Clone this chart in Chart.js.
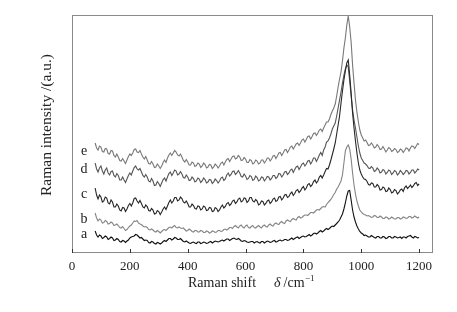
<!DOCTYPE html>
<html>
<head>
<meta charset="utf-8">
<script src="https://cdn.jsdelivr.net/npm/chart.js@4.4.1/dist/chart.umd.min.js"></script>
<style>
  html, body { margin: 0; padding: 0; background: #fff; }
  #wrap { width: 457px; height: 312px; }
</style>
</head>
<body>
<div id="wrap"><canvas id="raman" width="457" height="312"></canvas></div>
<script>
// Raman shift grid (cm-1)
const shift = [
  80, 85, 90, 95, 100, 105, 110, 115, 120, 125, 130, 135, 140, 145, 150, 155, 160, 165, 170, 175,
  180, 185, 190, 195, 200, 205, 210, 215, 220, 225, 230, 235, 240, 245, 250, 255, 260, 265, 270, 275,
  280, 285, 290, 295, 300, 305, 310, 315, 320, 325, 330, 335, 340, 345, 350, 355, 360, 365, 370, 375,
  380, 385, 390, 395, 400, 405, 410, 415, 420, 425, 430, 435, 440, 445, 450, 455, 460, 465, 470, 475,
  480, 485, 490, 495, 500, 505, 510, 515, 520, 525, 530, 535, 540, 545, 550, 555, 560, 565, 570, 575,
  580, 585, 590, 595, 600, 605, 610, 615, 620, 625, 630, 635, 640, 645, 650, 655, 660, 665, 670, 675,
  680, 685, 690, 695, 700, 705, 710, 715, 720, 725, 730, 735, 740, 745, 750, 755, 760, 765, 770, 775,
  780, 785, 790, 795, 800, 805, 810, 815, 820, 825, 830, 835, 840, 845, 850, 855, 860, 865, 870, 875,
  880, 885, 890, 895, 900, 905, 910, 915, 920, 925, 930, 935, 940, 945, 950, 955, 960, 965, 970, 975,
  980, 985, 990, 995, 1000, 1005, 1010, 1015, 1020, 1025, 1030, 1035, 1040, 1045, 1050, 1055, 1060, 1065, 1070, 1075,
  1080, 1085, 1090, 1095, 1100, 1105, 1110, 1115, 1120, 1125, 1130, 1135, 1140, 1145, 1150, 1155, 1160, 1165, 1170, 1175,
  1180, 1185, 1190, 1195, 1200
];

// intensities (a.u.), stacked spectra a..e
const specA = [
  22, 18, 16, 18, 17, 14.5, 15.5, 17, 16, 13.5, 14.5, 16, 15, 12.5, 13, 14.5, 13.5, 11.5, 11, 12.5,
  12, 10.5, 12, 13, 15, 16, 16.5, 17, 18.5, 18, 16.5, 15, 15.5, 14, 12.5, 13, 12.5, 10.5, 10, 11.5,
  11, 9.5, 9, 10.5, 10, 9, 10, 11.5, 12.5, 11.5, 13, 14.5, 14.5, 13, 14, 15.5, 15, 13.5, 13.5, 14.5,
  13, 11.5, 11, 12, 11, 10, 9.5, 10.5, 11, 10, 9.5, 11, 11, 9.5, 10, 11, 10.5, 9.5, 10, 11,
  11.5, 10, 11, 12, 11.5, 11, 11.5, 12.5, 13, 12, 13, 14, 14, 12.5, 13.5, 14.5, 15, 14, 13.5, 14.5,
  13.5, 12, 11.5, 12.5, 12, 11, 10.5, 11, 11.5, 11.5, 10, 11, 11.5, 10.5, 10, 11.5, 11.5, 10, 11, 12,
  11.5, 10.5, 11, 12, 12.5, 11, 11.5, 12.5, 13, 12, 12.5, 13.5, 13.5, 12.5, 13, 14, 15, 13.5, 14.5, 15.5,
  16, 14.5, 15.5, 16.5, 17, 16, 16.5, 17.5, 18.5, 17, 18, 19.5, 20, 19, 20, 21.5, 22.5, 21, 22, 23.5,
  24.5, 23.5, 24.5, 26, 27, 26.5, 28, 29.5, 31, 33, 36, 39, 44, 50, 57, 62, 62.5, 53, 43, 36,
  31, 27, 24, 21.5, 20, 19, 17.5, 18, 17, 16, 16, 17.5, 16.5, 15.5, 15, 16.5, 16.5, 15, 15, 16.5,
  16, 14.5, 15, 16.5, 16.5, 15, 15, 16.5, 16, 15, 15.5, 16, 14.5, 16, 16, 15, 16.5, 17, 17.5, 16,
  15, 16.5, 16, 15, 15.5
];
const specB = [
  40, 35, 32, 34, 33, 30, 30.5, 32.5, 31.5, 29, 29.5, 31, 30, 27.5, 28, 29, 27.5, 25.5, 25, 26.5,
  24.5, 22.5, 23.5, 25.5, 27, 28, 30, 32, 31.5, 32.5, 30, 29, 28.5, 27, 26, 26.5, 25.5, 23.5, 23, 24,
  23, 21.5, 21, 22.5, 21.5, 20, 21.5, 23, 23.5, 22.5, 24, 25.5, 26, 25, 26.5, 27.5, 25.5, 25, 26, 25,
  24.5, 25, 23.5, 22, 22.5, 24, 23, 21.5, 21, 22.5, 22.5, 21, 21, 22.5, 22, 20.5, 20.5, 22, 21.5, 20,
  20.5, 22, 21.5, 20.5, 21, 22.5, 22.5, 21.5, 22, 23.5, 24, 23, 24, 25.5, 25.5, 24.5, 26.5, 27.5, 26, 25,
  27, 28, 26, 25, 27, 28, 25.5, 25, 26.5, 27.5, 25.5, 25, 26.5, 27.5, 26, 25, 27, 28, 26.5, 26,
  28, 29, 27.5, 27, 29, 30, 29, 28.5, 30.5, 31.5, 30, 29.5, 32, 33, 32, 31.5, 33.5, 34.5, 33.5, 33,
  35.5, 36.5, 35, 35.5, 37, 38, 38, 37.5, 39, 40.5, 40.5, 40, 41.5, 43, 43.5, 43, 44.5, 46, 46.5, 46,
  48.5, 50.5, 52, 53.5, 56, 58.5, 60.5, 64, 66, 69, 72, 78, 90, 102, 106, 108, 104, 94, 80, 68,
  59, 52, 47, 43, 41, 39.5, 38.5, 38, 37, 37.5, 36.5, 35.5, 36, 37.5, 37, 35.5, 35.5, 37, 36, 34.5,
  34.5, 36, 35.5, 34, 34.5, 36, 35, 34, 34, 35.5, 35.5, 34, 34.5, 36, 35.5, 34.5, 35, 36.5, 36.5, 35,
  35.5, 37, 36, 35, 36
];
const specC = [
  65, 58, 54, 58, 56, 51, 52, 56, 55, 50, 49, 53, 51, 46, 46, 49, 47, 43, 42, 45.5,
  45, 41.5, 44, 47.5, 49.5, 47, 50, 54.5, 55, 52, 50, 52.5, 49.5, 46, 45, 48, 46.5, 42.5, 42, 44.5,
  43, 39, 39.5, 42.5, 41.5, 38.5, 41, 44, 46, 43.5, 47, 50.5, 53, 50, 52, 55.5, 55.5, 52, 53, 56,
  54.5, 51, 50, 52, 49.5, 46, 46, 49, 47.5, 44.5, 44, 47, 46.5, 43, 44, 47, 46, 42.5, 43, 45.5,
  45, 41.5, 42, 45.5, 44.5, 41.5, 43, 46, 48, 45, 46.5, 49.5, 50.5, 47.5, 49, 52, 53, 49.5, 51, 54,
  55, 51, 52, 55, 54.5, 50.5, 52, 55.5, 55.5, 52, 51, 53.5, 52, 48, 49, 52, 51.5, 48, 49.5, 52,
  53, 49.5, 51, 54, 55, 51.5, 52.5, 56, 56.5, 53, 55, 58, 58.5, 55.5, 56.5, 59.5, 61, 57.5, 59.5, 62.5,
  63.5, 60.5, 62, 65, 66.5, 63, 65, 68.5, 69.5, 66.5, 68, 71.5, 73, 70, 72, 76, 77.5, 75, 78, 81.5,
  84.5, 84, 88, 93, 98.5, 104, 110, 119, 128, 137, 150, 162, 173, 182, 190, 193, 178, 160, 140, 125,
  112, 100, 90, 83, 79, 76, 74, 73.5, 71.5, 68.5, 68, 70, 69.5, 66, 66, 68.5, 67, 63, 63.5, 66,
  65, 61.5, 62, 65, 63.5, 60, 61, 63.5, 62.5, 59, 60.5, 63, 64, 61.5, 65.5, 67, 64.5, 66, 68, 65.5,
  67, 69.5, 70.5, 67.5, 69
];
const specD = [
  90, 84, 81, 85, 87, 82, 79, 83, 85, 80, 78, 81.5, 82, 77.5, 76, 79.5, 77.5, 73, 73, 76,
  73, 70.5, 74, 77.5, 80, 78, 82, 85.5, 87, 84, 83, 84.5, 81, 77.5, 76, 78.5, 76, 72, 71, 74.5,
  72, 67.5, 68, 71.5, 69.5, 66.5, 70, 73.5, 75, 72, 76, 79.5, 81, 77.5, 80, 83, 82, 78, 79, 81.5,
  79, 75.5, 75, 78, 76, 72.5, 73, 76, 74.5, 71, 72, 75, 74, 70.5, 72, 75, 73.5, 70, 71, 73.5,
  73, 69.5, 71, 74, 72.5, 70, 72, 75, 76, 72.5, 74, 78, 80, 77, 78.5, 81.5, 82, 78.5, 80, 82.5,
  80, 76.5, 76, 79, 77, 73.5, 74.5, 77.5, 76.5, 72.5, 73.5, 77, 75.5, 72, 73, 76, 75.5, 72, 74, 76.5,
  76, 73, 74.5, 77.5, 77.5, 74.5, 76, 79.5, 79, 76, 78, 81, 81.5, 78.5, 80, 83, 84, 80.5, 83.5, 86,
  87, 83.5, 86, 89, 90, 87, 89, 92, 92.5, 89, 91.5, 95, 95, 91.5, 94.5, 98, 100.5, 97.5, 103, 106,
  111, 112, 115, 119, 124, 127, 130, 137, 145, 153, 161, 170, 178, 184, 188, 186, 172, 157, 143, 133,
  125, 116, 107, 100, 95, 92.5, 90, 89, 87.5, 85, 84.5, 86.5, 85, 81.5, 82.5, 85, 83.5, 80, 81, 83.5,
  82.5, 79, 80.5, 83, 82, 78.5, 80, 82.5, 81.5, 78, 79.5, 82.5, 81, 78.5, 80, 82.5, 82, 79, 80.5, 83,
  83, 80, 81.5, 84, 83
];
const specE = [
  110, 105, 103, 107, 106, 101.5, 101, 104.5, 104, 99.5, 99, 102.5, 102, 97.5, 96, 99, 96, 92.5, 92, 94.5,
  92, 89.5, 93, 96.5, 99, 97.5, 100, 103.5, 104, 101, 100.5, 102.5, 99, 96, 94, 96.5, 93, 89.5, 89, 91.5,
  89, 85.5, 86, 89, 87, 84.5, 87, 90.5, 93, 90.5, 95, 98, 100, 97.5, 100, 102.5, 101, 98, 97, 99,
  96, 92.5, 91, 93.5, 91, 88, 88, 91, 90, 86.5, 87.5, 90, 89, 85.5, 87, 90, 88.5, 85, 86, 88.5,
  88, 84.5, 86, 89, 87.5, 85, 87, 90, 91, 88, 91, 93.5, 94.5, 91.5, 94, 96.5, 97, 94, 95, 97.5,
  96, 92.5, 93, 95.5, 94, 90.5, 90.5, 93.5, 92.5, 89, 90, 93, 92, 89, 90, 93, 93, 90, 92, 95,
  95, 92, 94, 97, 97.5, 94.5, 97, 100, 100.5, 97.5, 100, 103, 103.5, 100.5, 103, 106, 107, 104, 106.5, 109,
  110, 107.5, 110, 113, 114, 111, 113.5, 116.5, 117, 114, 116.5, 119.5, 120, 117.5, 120, 123, 124, 121.5, 125, 128,
  131, 131, 134, 138.5, 142, 145, 149, 157, 166, 174, 181, 192, 205, 215, 228, 237, 226, 211, 188, 170,
  153, 141, 131, 123, 118, 115, 112, 113, 110.5, 107.5, 108, 110, 108, 105, 106, 108.5, 106.5, 103.5, 104, 106.5,
  104, 101, 103, 105.5, 104.5, 101.5, 102.5, 104.5, 103.5, 100.5, 101.5, 104, 103, 100.5, 102.5, 105, 104.5, 102, 105, 107,
  106.5, 104.5, 107, 109.5, 108.5
];

const seriesNames = ['a', 'b', 'c', 'd', 'e'];
const seriesColors = ['#111111', '#858585', '#262626', '#555555', '#787878'];
const seriesData = [specA, specB, specC, specD, specE];
const xTicks = [0, 200, 400, 600, 800, 1000, 1200];

const serif = '"Liberation Serif", "DejaVu Serif", serif';

const decor = {
  id: 'decor',
  afterDraw(chart) {
    const { ctx, chartArea, scales } = chart;
    const { left, right, top, bottom } = chartArea;
    ctx.save();

    // frame
    ctx.strokeStyle = '#8a8a8a';
    ctx.lineWidth = 1;
    ctx.strokeRect(left + 0.5, top + 0.5, right - left - 1, bottom - top - 1);

    // inward ticks on the bottom axis
    ctx.strokeStyle = '#333';
    xTicks.forEach(v => {
      const px = Math.round(scales.x.getPixelForValue(v)) + 0.5;
      ctx.beginPath();
      ctx.moveTo(px, bottom);
      ctx.lineTo(px, bottom - 4);
      ctx.stroke();
    });

    // curve labels
    ctx.fillStyle = '#222';
    ctx.font = '14px ' + serif;
    ctx.textAlign = 'center';
    ctx.textBaseline = 'middle';
    const labelY = { e: 151, d: 169, c: 194, b: 219, a: 234 };
    seriesNames.forEach(n => ctx.fillText(n, 84, labelY[n]));

    // y title
    ctx.save();
    ctx.translate(47, 125);
    ctx.rotate(-Math.PI / 2);
    ctx.font = '15.5px ' + serif;
    ctx.fillText('Raman intensity /(a.u.)', 0, 0);
    ctx.restore();

    // x title with italic delta and superscript
    ctx.textAlign = 'left';
    ctx.textBaseline = 'alphabetic';
    let x = 188;
    const base = 287;
    ctx.font = '14px ' + serif;
    ctx.fillText('Raman shift', x, base);
    x += ctx.measureText('Raman shift').width + 18;
    ctx.font = 'italic 14px ' + serif;
    ctx.fillText('δ', x, base);
    x += ctx.measureText('δ').width + 3;
    ctx.font = '14px ' + serif;
    ctx.fillText('/cm', x, base);
    x += ctx.measureText('/cm').width;
    ctx.font = '9px ' + serif;
    ctx.fillText('−1', x + 0.5, base - 6);

    ctx.restore();
  }
};

new Chart(document.getElementById('raman'), {
  type: 'line',
  data: {
    datasets: seriesData.map((arr, k) => ({
      label: seriesNames[k],
      data: shift.map((s, i) => ({ x: s, y: arr[i] })),
      borderColor: seriesColors[k],
      borderWidth: 1.1,
      pointRadius: 0,
      tension: 0,
      fill: false
    }))
  },
  options: {
    responsive: false,
    animation: false,
    events: [],
    layout: { padding: { left: 72, top: 15, right: 24, bottom: 0 } },
    plugins: { legend: { display: false }, tooltip: { enabled: false } },
    scales: {
      x: {
        type: 'linear',
        min: 0,
        max: 1248,
        afterBuildTicks: s => { s.ticks = xTicks.map(v => ({ value: v })); },
        afterFit: s => { s.height = 59; },
        grid: { display: false, drawTicks: false },
        border: { display: false },
        ticks: {
          padding: 6,
          color: '#222',
          font: { family: serif, size: 13 },
          maxRotation: 0,
          callback: v => String(v)
        }
      },
      y: {
        display: false,
        min: 0,
        max: 238
      }
    }
  },
  plugins: [decor]
});
</script>
</body>
</html>
